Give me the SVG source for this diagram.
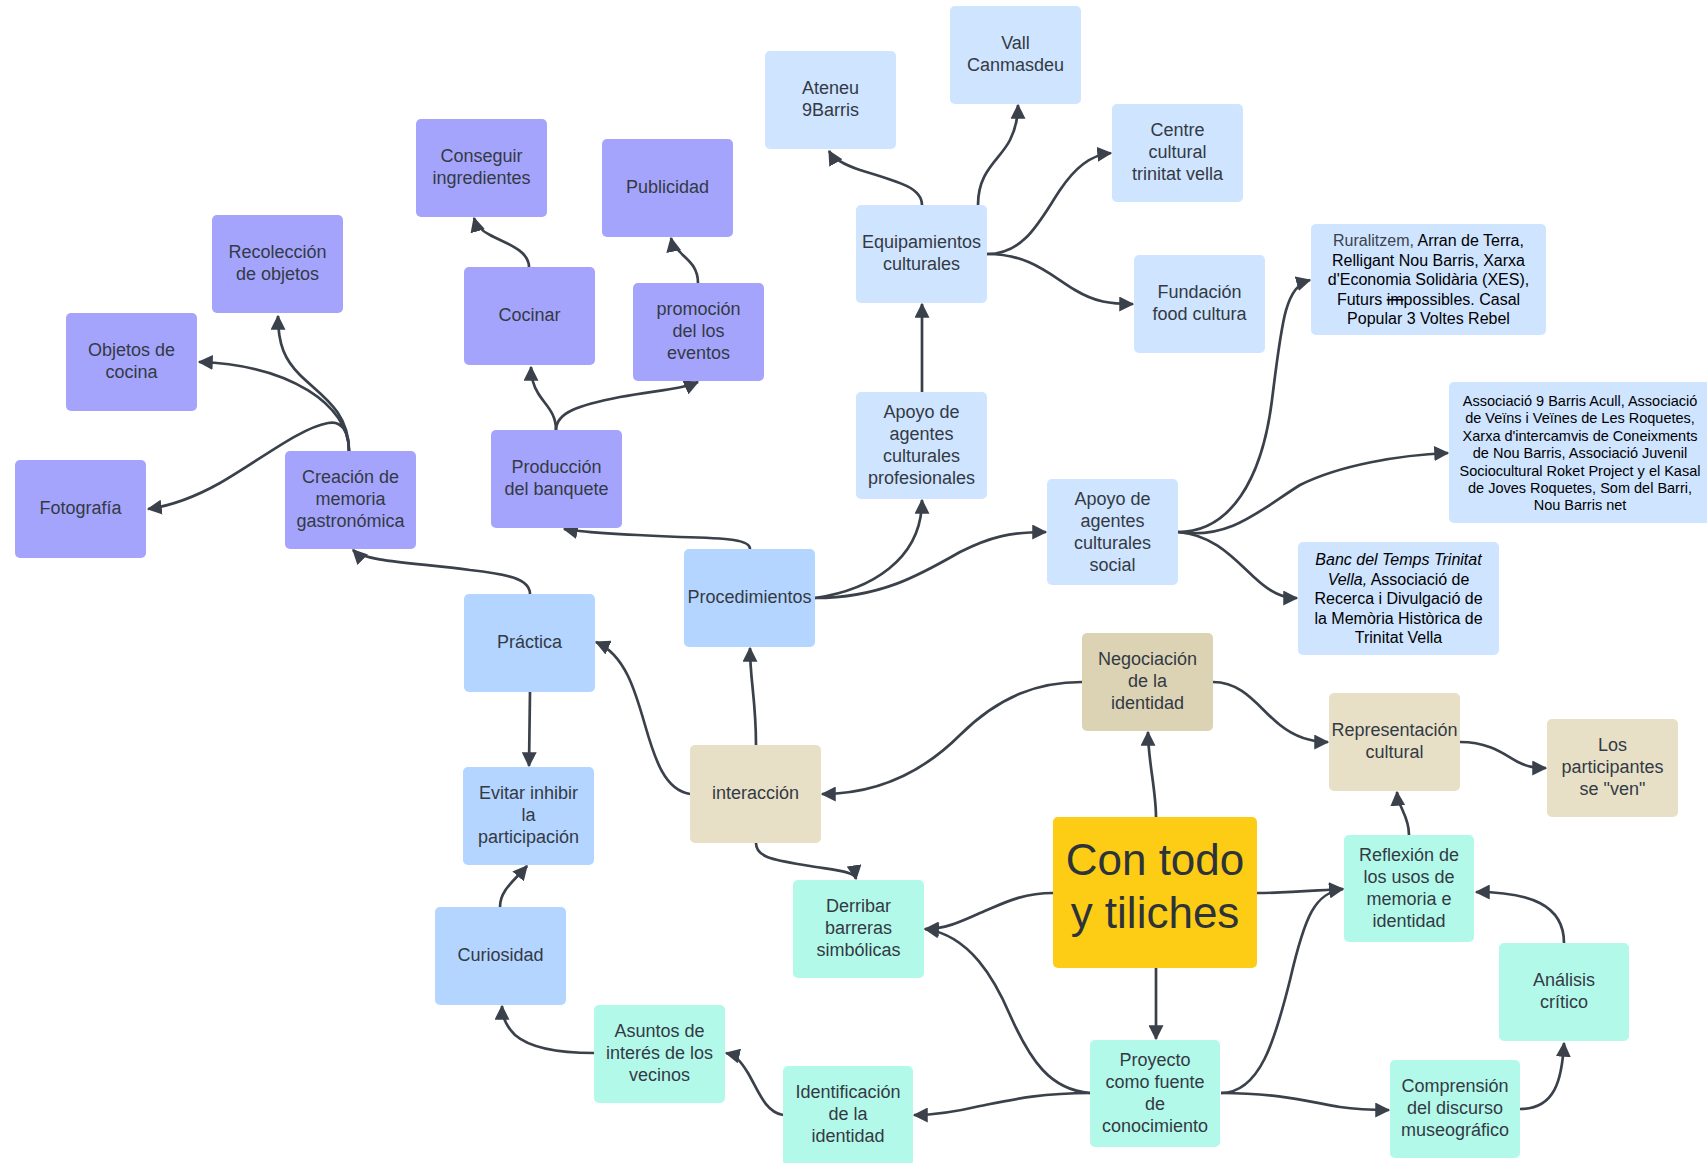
<svg xmlns="http://www.w3.org/2000/svg" width="1707" height="1163" viewBox="0 0 1707 1163">
<style>
.t{font-family:"Liberation Sans",Arial,sans-serif;font-size:18px;fill:#333a44;text-anchor:middle}
.s16{font-size:16px;fill:#000}
.s14{font-size:14.5px;fill:#000}
.big{font-size:44px;fill:#2d333b}
.pu{fill:#a5a4fc}.lb{fill:#cfe4ff}.mb{fill:#b4d5ff}.tn{fill:#e7e0c7}.tn2{fill:#dcd3b5}.mt{fill:#b3f9ea}.yl{fill:#fccd14}
#connectors path{fill:none;stroke:#3a414b;stroke-width:2.7;marker-end:url(#ah)}
</style>
<defs>
<marker id="ah" viewBox="0 0 12 12" refX="11" refY="6" markerWidth="15" markerHeight="15" markerUnits="userSpaceOnUse" orient="auto"><path d="M0,0 L12,6 L0,12 z" fill="#3a414b"/></marker>
</defs>
<rect width="1707" height="1163" fill="#fff"/>

<g id="connectors">
<path d="M349,451 C349,410 320,395 300,375 C285,360 278,345 278,316"/>
<path d="M349,451 C349,405 290,365 199,362"/>
<path d="M349,451 C349,432 342,420 328,423 C300,428 260,460 220,483 C195,497 170,506 148,509"/>
<path d="M530,594 C530,578 505,574 470,570 C420,563 365,562 353,550"/>
<path d="M750,549 C750,540 730,538 680,537 C630,535 585,533 564,529"/>
<path d="M556,430 C556,412 545,405 538,393 C533,385 531,377 531,367"/>
<path d="M556,430 C556,412 580,405 620,397 C660,390 682,389 698,382"/>
<path d="M529,267 C529,250 505,243 490,235 C480,230 476,225 474,218"/>
<path d="M698,283 C698,265 685,258 680,252 C675,247 672,243 671,238"/>
<path d="M815,598 C870,590 922,560 922,500"/>
<path d="M815,598 C880,598 920,575 960,552 C990,537 1010,532 1046,532"/>
<path d="M922,392 L922,304"/>
<path d="M922,205 C922,188 900,182 860,170 C842,164 833,158 829,151"/>
<path d="M978,205 C978,170 1000,160 1010,140 C1016,128 1018,118 1018,105"/>
<path d="M987,254 C1025,254 1040,220 1060,190 C1075,168 1090,155 1111,153"/>
<path d="M987,254 C1030,254 1050,275 1075,290 C1095,302 1110,304 1133,304"/>
<path d="M1178,532 C1230,532 1262,480 1272,400 C1282,320 1285,287 1310,280"/>
<path d="M1178,532 C1230,540 1260,510 1300,485 C1340,465 1400,455 1448,453"/>
<path d="M1178,532 C1215,535 1235,560 1255,578 C1270,592 1282,598 1297,598"/>
<path d="M1156,817 C1156,790 1148,760 1148,732"/>
<path d="M1082,682 C1040,682 1000,695 960,735 C925,770 880,794 822,794"/>
<path d="M1213,682 C1245,682 1260,710 1280,725 C1295,737 1310,742 1328,742"/>
<path d="M1460,742 C1490,742 1505,755 1518,762 C1528,767 1535,768 1546,768"/>
<path d="M1409,835 C1409,815 1398,808 1397,792"/>
<path d="M1257,893 C1290,893 1320,890 1343,889"/>
<path d="M1156,968 L1156,1039"/>
<path d="M1221,1093 C1260,1093 1275,1040 1290,980 C1305,915 1315,893 1343,889"/>
<path d="M1221,1093 C1280,1093 1310,1102 1340,1107 C1360,1110 1375,1110 1389,1110"/>
<path d="M1520,1109 C1555,1109 1562,1080 1564,1043"/>
<path d="M1564,943 C1564,905 1530,892 1476,892"/>
<path d="M1053,893 C1020,893 1000,905 980,913 C960,922 945,929 925,929"/>
<path d="M1090,1093 C1050,1090 1030,1060 1010,1015 C995,980 970,935 925,929"/>
<path d="M1090,1093 C1040,1093 1010,1100 980,1106 C955,1112 935,1115 914,1115"/>
<path d="M783,1115 C765,1112 758,1090 748,1073 C740,1060 735,1055 726,1053"/>
<path d="M594,1053 C560,1053 530,1048 515,1035 C505,1025 502,1015 502,1006"/>
<path d="M500,907 C500,890 515,880 527,866"/>
<path d="M530,692 L529,766"/>
<path d="M690,794 C665,790 655,760 645,725 C635,690 625,655 596,642"/>
<path d="M756,745 C756,700 750,680 750,648"/>
<path d="M756,843 C756,858 775,860 810,866 C840,871 855,872 856,879"/>
</g>

<g id="n-recoleccion"><rect class="pu" x="212" y="215" width="131" height="98" rx="5"/><text class="t"><tspan x="277.5" y="258">Recolección</tspan><tspan x="277.5" y="280">de objetos</tspan></text></g>
<g id="n-objetos"><rect class="pu" x="66" y="313" width="131" height="98" rx="5"/><text class="t"><tspan x="131.5" y="356">Objetos de</tspan><tspan x="131.5" y="378">cocina</tspan></text></g>
<g id="n-fotografia"><rect class="pu" x="15" y="460" width="131" height="98" rx="5"/><text class="t" x="80.5" y="514">Fotografía</text></g>
<g id="n-creacion"><rect class="pu" x="285" y="451" width="131" height="98" rx="5"/><text class="t"><tspan x="350.5" y="483">Creación de</tspan><tspan x="350.5" y="505">memoria</tspan><tspan x="350.5" y="527">gastronómica</tspan></text></g>
<g id="n-conseguir"><rect class="pu" x="416" y="119" width="131" height="98" rx="5"/><text class="t"><tspan x="481.5" y="162">Conseguir</tspan><tspan x="481.5" y="184">ingredientes</tspan></text></g>
<g id="n-publicidad"><rect class="pu" x="602" y="139" width="131" height="98" rx="5"/><text class="t" x="667.5" y="193">Publicidad</text></g>
<g id="n-cocinar"><rect class="pu" x="464" y="267" width="131" height="98" rx="5"/><text class="t" x="529.5" y="321">Cocinar</text></g>
<g id="n-promocion"><rect class="pu" x="633" y="283" width="131" height="98" rx="5"/><text class="t"><tspan x="698.5" y="315">promoción</tspan><tspan x="698.5" y="337">del los</tspan><tspan x="698.5" y="359">eventos</tspan></text></g>
<g id="n-produccion"><rect class="pu" x="491" y="430" width="131" height="98" rx="5"/><text class="t"><tspan x="556.5" y="473">Producción</tspan><tspan x="556.5" y="495">del banquete</tspan></text></g>

<g id="n-ateneu"><rect class="lb" x="765" y="51" width="131" height="98" rx="5"/><text class="t"><tspan x="830.5" y="94">Ateneu</tspan><tspan x="830.5" y="116">9Barris</tspan></text></g>
<g id="n-vall"><rect class="lb" x="950" y="6" width="131" height="98" rx="5"/><text class="t"><tspan x="1015.5" y="49">Vall</tspan><tspan x="1015.5" y="71">Canmasdeu</tspan></text></g>
<g id="n-centre"><rect class="lb" x="1112" y="104" width="131" height="98" rx="5"/><text class="t"><tspan x="1177.5" y="136">Centre</tspan><tspan x="1177.5" y="158">cultural</tspan><tspan x="1177.5" y="180">trinitat vella</tspan></text></g>
<g id="n-equipamientos"><rect class="lb" x="856" y="205" width="131" height="98" rx="5"/><text class="t"><tspan x="921.5" y="248">Equipamientos</tspan><tspan x="921.5" y="270">culturales</tspan></text></g>
<g id="n-fundacion"><rect class="lb" x="1134" y="255" width="131" height="98" rx="5"/><text class="t"><tspan x="1199.5" y="298">Fundación</tspan><tspan x="1199.5" y="320">food cultura</tspan></text></g>
<g id="n-apoyo-prof"><rect class="lb" x="856" y="392" width="131" height="107" rx="5"/><text class="t"><tspan x="921.5" y="418">Apoyo de</tspan><tspan x="921.5" y="440">agentes</tspan><tspan x="921.5" y="462">culturales</tspan><tspan x="921.5" y="484">profesionales</tspan></text></g>
<g id="n-apoyo-social"><rect class="lb" x="1047" y="479" width="131" height="106" rx="5"/><text class="t"><tspan x="1112.5" y="505">Apoyo de</tspan><tspan x="1112.5" y="527">agentes</tspan><tspan x="1112.5" y="549">culturales</tspan><tspan x="1112.5" y="571">social</tspan></text></g>
<g id="n-ruralitzem"><rect class="lb" x="1311" y="224" width="235" height="111" rx="5"/><text class="t s16"><tspan x="1428.5" y="246"><tspan fill="#3a424c">Ruralitzem,</tspan> Arran de Terra,</tspan><tspan x="1428.5" y="265.5">Relligant Nou Barris, Xarxa</tspan><tspan x="1428.5" y="285">d'Economia Solidària (XES),</tspan><tspan x="1428.5" y="304.5">Futurs <tspan text-decoration="line-through">im</tspan>possibles. Casal</tspan><tspan x="1428.5" y="324">Popular 3 Voltes Rebel</tspan></text></g>
<g id="n-associacio"><rect class="lb" x="1449" y="382" width="266" height="141" rx="5"/><text class="t s14"><tspan x="1580" y="406">Associació 9 Barris Acull, Associació</tspan><tspan x="1580" y="423.4">de Veïns i Veïnes de Les Roquetes,</tspan><tspan x="1580" y="440.8">Xarxa d'intercamvis de Coneixments</tspan><tspan x="1580" y="458.2">de Nou Barris, Associació Juvenil</tspan><tspan x="1580" y="475.6">Sociocultural Roket Project y el Kasal</tspan><tspan x="1580" y="493">de Joves Roquetes, Som del Barri,</tspan><tspan x="1580" y="510.4">Nou Barris net</tspan></text></g>
<g id="n-banc"><rect class="lb" x="1298" y="542" width="201" height="113" rx="5"/><text class="t s16"><tspan x="1398.5" y="565" font-style="italic">Banc del Temps Trinitat</tspan><tspan x="1398.5" y="584.6"><tspan font-style="italic">Vella,</tspan> Associació de</tspan><tspan x="1398.5" y="604.2">Recerca i Divulgació de</tspan><tspan x="1398.5" y="623.8">la Memòria Històrica de</tspan><tspan x="1398.5" y="643.4">Trinitat Vella</tspan></text></g>

<g id="n-procedimientos"><rect class="mb" x="684" y="549" width="131" height="98" rx="5"/><text class="t" x="749.5" y="603">Procedimientos</text></g>
<g id="n-practica"><rect class="mb" x="464" y="594" width="131" height="98" rx="5"/><text class="t" x="529.5" y="648">Práctica</text></g>
<g id="n-evitar"><rect class="mb" x="463" y="767" width="131" height="98" rx="5"/><text class="t"><tspan x="528.5" y="799">Evitar inhibir</tspan><tspan x="528.5" y="821">la</tspan><tspan x="528.5" y="843">participación</tspan></text></g>
<g id="n-curiosidad"><rect class="mb" x="435" y="907" width="131" height="98" rx="5"/><text class="t" x="500.5" y="961">Curiosidad</text></g>

<g id="n-interaccion"><rect class="tn" x="690" y="745" width="131" height="98" rx="5"/><text class="t" x="755.5" y="799">interacción</text></g>
<g id="n-negociacion"><rect class="tn2" x="1082" y="633" width="131" height="98" rx="5"/><text class="t"><tspan x="1147.5" y="665">Negociación</tspan><tspan x="1147.5" y="687">de la</tspan><tspan x="1147.5" y="709">identidad</tspan></text></g>
<g id="n-representacion"><rect class="tn" x="1329" y="693" width="131" height="98" rx="5"/><text class="t"><tspan x="1394.5" y="736">Representación</tspan><tspan x="1394.5" y="758">cultural</tspan></text></g>
<g id="n-participantes"><rect class="tn" x="1547" y="719" width="131" height="98" rx="5"/><text class="t"><tspan x="1612.5" y="751">Los</tspan><tspan x="1612.5" y="773">participantes</tspan><tspan x="1612.5" y="795">se "ven"</tspan></text></g>

<g id="n-derribar"><rect class="mt" x="793" y="880" width="131" height="98" rx="5"/><text class="t"><tspan x="858.5" y="912">Derribar</tspan><tspan x="858.5" y="934">barreras</tspan><tspan x="858.5" y="956">simbólicas</tspan></text></g>
<g id="n-reflexion"><rect class="mt" x="1344" y="835" width="130" height="107" rx="5"/><text class="t"><tspan x="1409" y="861">Reflexión de</tspan><tspan x="1409" y="883">los usos de</tspan><tspan x="1409" y="905">memoria e</tspan><tspan x="1409" y="927">identidad</tspan></text></g>
<g id="n-analisis"><rect class="mt" x="1499" y="943" width="130" height="98" rx="5"/><text class="t"><tspan x="1564" y="986">Análisis</tspan><tspan x="1564" y="1008">crítico</tspan></text></g>
<g id="n-proyecto"><rect class="mt" x="1090" y="1040" width="130" height="107" rx="5"/><text class="t"><tspan x="1155" y="1066">Proyecto</tspan><tspan x="1155" y="1088">como fuente</tspan><tspan x="1155" y="1110">de</tspan><tspan x="1155" y="1132">conocimiento</tspan></text></g>
<g id="n-comprension"><rect class="mt" x="1390" y="1060" width="130" height="98" rx="5"/><text class="t"><tspan x="1455" y="1092">Comprensión</tspan><tspan x="1455" y="1114">del discurso</tspan><tspan x="1455" y="1136">museográfico</tspan></text></g>
<g id="n-asuntos"><rect class="mt" x="594" y="1005" width="131" height="98" rx="5"/><text class="t"><tspan x="659.5" y="1037">Asuntos de</tspan><tspan x="659.5" y="1059">interés de los</tspan><tspan x="659.5" y="1081">vecinos</tspan></text></g>
<g id="n-identificacion"><rect class="mt" x="783" y="1066" width="130" height="100" rx="5"/><text class="t"><tspan x="848" y="1098">Identificación</tspan><tspan x="848" y="1120">de la</tspan><tspan x="848" y="1142">identidad</tspan></text></g>

<g id="n-contodo"><rect class="yl" x="1053" y="817" width="204" height="151" rx="5"/><text class="t big"><tspan x="1155" y="875">Con todo</tspan><tspan x="1155" y="928">y tiliches</tspan></text></g>
</svg>
